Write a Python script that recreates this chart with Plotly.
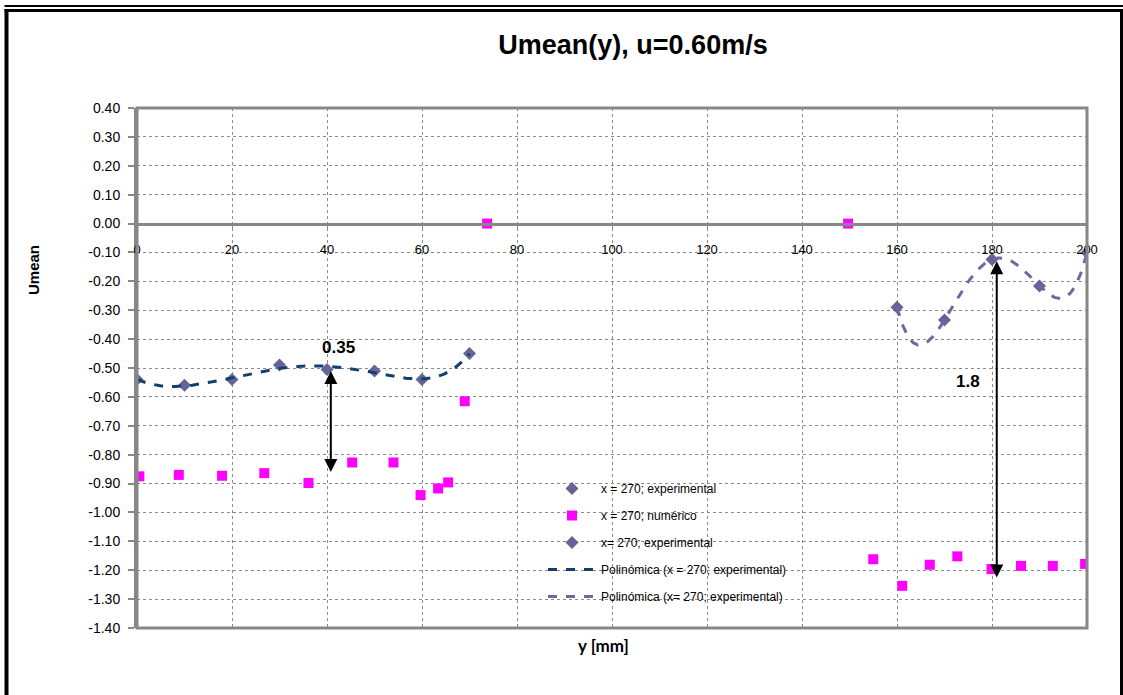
import numpy as np
import plotly.graph_objects as go

# ---------------- data ----------------
y_exp_left = [0, 10, 20, 30, 40, 50, 60, 70]
u_exp_left = [-0.54, -0.56, -0.54, -0.49, -0.505, -0.51, -0.54, -0.45]

y_exp_right = [160, 170, 180, 190, 200]
u_exp_right = [-0.29, -0.334, -0.124, -0.216, -0.10]

y_num = [0.5, 8.8, 17.9, 26.8, 36.1, 45.3, 54.0, 59.7, 63.4, 65.5, 69.0, 73.7,
         149.7, 155.0, 161.1, 166.9, 172.7, 179.9, 186.1, 192.8, 199.6]
u_num = [-0.875, -0.87, -0.873, -0.864, -0.898, -0.827, -0.827, -0.94, -0.917, -0.896, -0.615, 0.0,
         0.0, -1.162, -1.254, -1.181, -1.152, -1.196, -1.185, -1.185, -1.178]

x_ticks = [0, 20, 40, 60, 80, 100, 120, 140, 160, 180, 200]
y_ticks = [0.4, 0.3, 0.2, 0.1, 0.0, -0.1, -0.2, -0.3, -0.4, -0.5, -0.6, -0.7,
           -0.8, -0.9, -1.0, -1.1, -1.2, -1.3, -1.4]
y_ticklabels = ["0.40", "0.30", "0.20", "0.10", "0.00", "-0.10", "-0.20", "-0.30", "-0.40",
                "-0.50", "-0.60", "-0.70", "-0.80", "-0.90", "-1.00", "-1.10", "-1.20",
                "-1.30", "-1.40"]

legend_names = ["x = 270; experimental", "x = 270; numérico", "x= 270; experimental",
                "Polinómica (x = 270; experimental)", "Polinómica (x= 270; experimental)"]

# polynomial trendlines (as in the spreadsheet)
c_left = np.polyfit(y_exp_left, u_exp_left, 6)
xs_left = np.linspace(min(y_exp_left), max(y_exp_left), 200)
c_right = np.polyfit(y_exp_right, u_exp_right, 4)
xs_right = np.linspace(min(y_exp_right), max(y_exp_right), 200)

X_RANGE = [0, 200]
Y_RANGE = [-1.4, 0.4]

# ---------------- geometry (pixels) ----------------
W, H = 1123, 695
ML, MR, MT, MB = 137, 36, 108, 67
PW, PH = W - ML - MR, H - MT - MB

def px(xp):
    return (xp - ML) / PW

def py(yp):
    return (H - MB - yp) / PH

GRAY = "#878787"
DIAMOND = "#646496"
NAVY = "#123F6E"
SLATE = "#6A6AA2"
MAGENTA = "#FF00FF"

fig = go.Figure()

fig.add_trace(go.Scatter(x=y_exp_left, y=u_exp_left, mode="markers", name=legend_names[0],
                         legendgroup="a",
                         marker=dict(symbol="diamond", size=10, color=DIAMOND)))
fig.add_trace(go.Scatter(x=y_num, y=u_num, mode="markers", name=legend_names[1],
                         legendgroup="b",
                         marker=dict(symbol="square", size=10, color=MAGENTA)))
fig.add_trace(go.Scatter(x=y_exp_right, y=u_exp_right, mode="markers", name=legend_names[2],
                         legendgroup="c",
                         marker=dict(symbol="diamond", size=10, color=DIAMOND)))
fig.add_trace(go.Scatter(x=xs_left, y=np.polyval(c_left, xs_left), mode="lines",
                         name=legend_names[3], legendgroup="d",
                         line=dict(color=NAVY, width=3, dash="dash")))
fig.add_trace(go.Scatter(x=xs_right, y=np.polyval(c_right, xs_right), mode="lines",
                         name=legend_names[4], legendgroup="e",
                         line=dict(color=SLATE, width=3, dash="dash")))

# double-headed arrows and labels
arrows = [(40.8, -0.505, -0.86, "0.35", 42.5, -0.43),
          (181.0, -0.125, -1.225, "1.8", 175.0, -0.545)]
for xa, ytop, ybot, lab, lx, ly in arrows:
    fig.add_annotation(x=xa, y=ybot, ax=xa, ay=ytop, xref="x", yref="y", axref="x", ayref="y",
                       text="", showarrow=True, arrowhead=2, startarrowhead=2,
                       arrowside="end+start", arrowsize=1.3, arrowwidth=2, arrowcolor="black")
    fig.add_annotation(x=lx, y=ly, xref="x", yref="y", text="<b>%s</b>" % lab, showarrow=False,
                       font=dict(family="Liberation Sans, Arial", size=17, color="black"))

# axis titles
fig.add_annotation(x=px(33), y=py(270), xref="paper", yref="paper", text="<b>Umean</b>",
                   showarrow=False, textangle=-90, xanchor="center", yanchor="middle",
                   font=dict(family="Liberation Sans, Arial", size=15, color="black"))
fig.add_annotation(x=px(603), y=py(645), xref="paper", yref="paper", text="<b>y [mm]</b>",
                   showarrow=False, xanchor="center", yanchor="middle",
                   font=dict(family="Lato, Carlito, Liberation Sans", size=17, color="black"))

shapes = [
    # plot-area frame
    dict(type="rect", xref="paper", yref="paper", x0=0, x1=1, y0=0, y1=1,
         line=dict(color=GRAY, width=3), layer="above"),
    # outer chart frame
    dict(type="line", xref="paper", yref="paper", x0=px(6.5), x1=px(6.5), y0=py(9), y1=py(700),
         line=dict(color="black", width=4)),
    dict(type="line", xref="paper", yref="paper", x0=px(1121.5), x1=px(1121.5), y0=py(9), y1=py(700),
         line=dict(color="black", width=3)),
    dict(type="line", xref="paper", yref="paper", x0=px(4.5), x1=px(1123), y0=py(10.5), y1=py(10.5),
         line=dict(color="black", width=3)),
    dict(type="line", xref="paper", yref="paper", x0=px(4.5), x1=px(1123), y0=py(6), y1=py(6),
         line=dict(color="black", width=2)),
]

fig.update_layout(
    width=W, height=H,
    margin=dict(l=ML, r=MR, t=MT, b=MB),
    paper_bgcolor="white", plot_bgcolor="white",
    title=dict(text="<b>Umean(y), u=0.60m/s</b>", x=633 / W, xref="container", xanchor="center",
               y=1 - 45 / H, yref="container", yanchor="middle",
               font=dict(family="Liberation Sans, Arial", size=27, color="black")),
    shapes=shapes,
    showlegend=True,
    legend=dict(x=px(543), y=py(474), xanchor="left", yanchor="top", bgcolor="rgba(0,0,0,0)",
                tracegroupgap=8, itemwidth=48,
                font=dict(family="Liberation Sans, Arial", size=12, color="black")),
    xaxis=dict(range=X_RANGE, tickvals=x_ticks, ticktext=[str(v) for v in x_ticks],
               anchor="free", position=(0 - Y_RANGE[0]) / (Y_RANGE[1] - Y_RANGE[0]),
               showline=True, linecolor=GRAY, linewidth=3,
               ticks="outside", ticklen=4, tickcolor=GRAY, tickwidth=1,
               ticklabelstandoff=9,
               showgrid=True, gridcolor="#8a8a8a", griddash="dot", gridwidth=1,
               zeroline=False,
               tickfont=dict(family="Liberation Sans, Arial", size=13, color="black")),
    yaxis=dict(range=Y_RANGE, tickvals=y_ticks, ticktext=y_ticklabels,
               showline=True, linecolor=GRAY, linewidth=3,
               ticks="outside", ticklen=6, tickcolor=GRAY, tickwidth=2,
               ticklabelstandoff=5,
               showgrid=True, gridcolor="#8a8a8a", griddash="dot", gridwidth=1,
               zeroline=False,
               tickfont=dict(family="Liberation Sans, Arial", size=14, color="black")),
)

fig.write_html("out.html", config={"displayModeBar": False},
               post_script="document.body.style.margin='0';document.body.style.padding='0';"
                           "document.documentElement.style.overflow='hidden';")
